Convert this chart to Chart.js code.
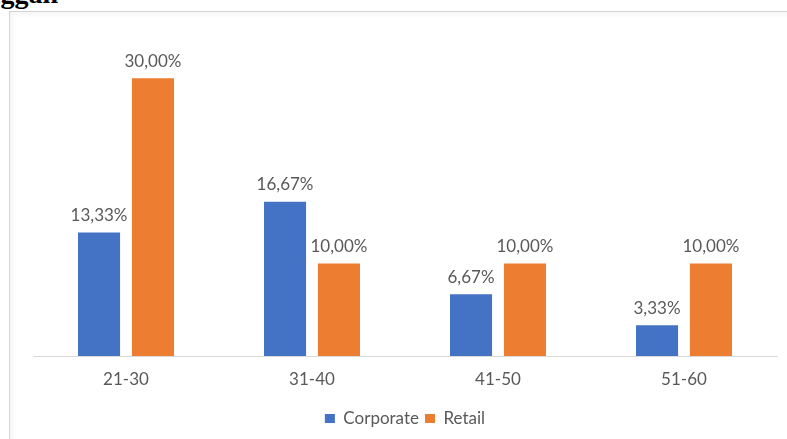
<!DOCTYPE html>
<html>
<head>
<meta charset="utf-8">
<script src="https://cdn.jsdelivr.net/npm/chart.js@4.4.1/dist/chart.umd.min.js"></script>
<style>
  html, body { margin: 0; padding: 0; background: #fff; }
  body { width: 787px; height: 439px; position: relative; overflow: hidden; }
  .heading {
    position: absolute; right: 729px; top: -20px;
    font: bold 28px/1 "Liberation Serif", "DejaVu Serif", serif; color: #000;
    white-space: nowrap;
  }
  .frame {
    position: absolute; left: 9px; top: 11px; width: 790px; height: 440px;
    border-left: 1px solid #d4d4d4; border-top: 1px solid #d4d4d4;
    box-shadow: inset 3px 3px 4px rgba(0,0,0,0.04);
  }
  canvas { position: absolute; left: 0; top: 0; }
</style>
</head>
<body>
<div class="heading">Pelanggan</div>
<div class="frame"></div>
<canvas id="c" width="787" height="439"></canvas>
<script>
// Age groups and share of customers per segment (percent)
const ageGroups = ['21-30', '31-40', '41-50', '51-60'];
const corporate = [13.33, 16.67, 6.67, 3.33];
const retail = [30.00, 10.00, 10.00, 10.00];

const fontFamily = 'Lato, "Open Sans", "Liberation Sans", sans-serif';
const textColor = '#595959';

const fmt = v => v.toFixed(2).replace('.', ',') + '%';

// Draws the value above every bar
const valueLabels = {
  id: 'valueLabels',
  afterDatasetsDraw(chart) {
    const ctx = chart.ctx;
    ctx.save();
    ctx.font = '17px ' + fontFamily;
    ctx.fillStyle = textColor;
    ctx.textAlign = 'center';
    ctx.textBaseline = 'middle';
    chart.data.datasets.forEach((ds, i) => {
      chart.getDatasetMeta(i).data.forEach((bar, j) => {
        ctx.fillText(fmt(ds.data[j]), bar.x, bar.y - 17);
      });
    });
    ctx.restore();
  }
};

new Chart(document.getElementById('c'), {
  type: 'bar',
  data: {
    labels: ageGroups,
    datasets: [
      { label: 'Corporate', data: corporate, backgroundColor: '#4472C4' },
      { label: 'Retail', data: retail, backgroundColor: '#ED7D31' }
    ]
  },
  options: {
    responsive: false,
    animation: false,
    events: [],
    layout: { padding: { left: 33, right: 10, top: 32, bottom: 2 } },
    datasets: { bar: { categoryPercentage: 0.58, barPercentage: 0.78 } },
    scales: {
      x: {
        grid: { display: false, drawTicks: false },
        border: { display: true, color: '#d9d9d9', width: 1 },
        ticks: { color: textColor, font: { family: fontFamily, size: 17 }, padding: 13 },
        afterFit(scale) { scale.height = 48; }
      },
      y: {
        display: false,
        min: 0,
        max: 35
      }
    },
    plugins: {
      legend: {
        position: 'bottom',
        labels: {
          color: textColor,
          font: { family: fontFamily, size: 17 },
          boxWidth: 10, boxHeight: 9,
          padding: 6
        }
      },
      tooltip: { enabled: false }
    }
  },
  plugins: [valueLabels]
});
</script>
</body>
</html>
